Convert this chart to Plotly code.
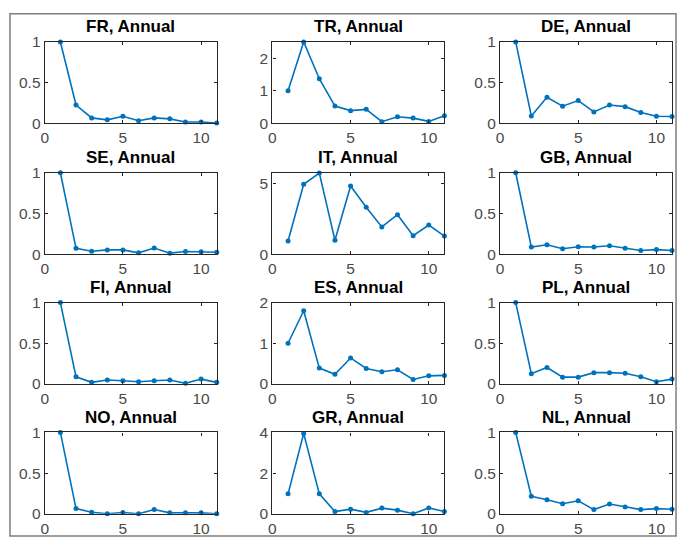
import plotly.graph_objects as go

lags = list(range(1, 12))

countries = ["FR", "TR", "DE", "SE", "IT", "GB", "FI", "ES", "PL", "NO", "GR", "NL"]

FR = [1.0, 0.225, 0.067, 0.043, 0.087, 0.032, 0.067, 0.055, 0.016, 0.016, 0.004]
TR = [1.0, 2.5, 1.37, 0.53, 0.39, 0.43, 0.05, 0.20, 0.16, 0.06, 0.23]
DE = [1.0, 0.09, 0.32, 0.21, 0.28, 0.14, 0.225, 0.205, 0.134, 0.087, 0.083]
SE = [1.0, 0.071, 0.036, 0.052, 0.052, 0.016, 0.075, 0.012, 0.032, 0.028, 0.024]
IT = [0.94, 4.98, 5.78, 0.99, 4.86, 3.34, 1.94, 2.81, 1.31, 2.07, 1.29]
GB = [1.0, 0.087, 0.115, 0.067, 0.091, 0.087, 0.103, 0.071, 0.044, 0.056, 0.044]
FI = [1.0, 0.088, 0.02, 0.048, 0.04, 0.028, 0.04, 0.048, 0.008, 0.06, 0.02]
ES = [1.0, 1.8, 0.39, 0.24, 0.64, 0.38, 0.30, 0.35, 0.11, 0.20, 0.21]
PL = [1.0, 0.127, 0.203, 0.084, 0.084, 0.139, 0.139, 0.131, 0.088, 0.028, 0.06]
NO = [1.0, 0.064, 0.02, 0.0, 0.016, 0.0, 0.052, 0.012, 0.012, 0.012, 0.0]
GR = [0.98, 3.95, 0.98, 0.11, 0.23, 0.07, 0.28, 0.18, 0.0, 0.29, 0.11]
NL = [1.0, 0.216, 0.172, 0.124, 0.16, 0.052, 0.12, 0.084, 0.052, 0.064, 0.056]

series = [FR, TR, DE, SE, IT, GB, FI, ES, PL, NO, GR, NL]

y_ranges = [[0, 1], [0, 2.5], [0, 1], [0, 1], [0, 5.8], [0, 1],
            [0, 1], [0, 2], [0, 1], [0, 1], [0, 4], [0, 1]]
y_ticks = [[0, 0.5, 1], [0, 1, 2], [0, 0.5, 1], [0, 0.5, 1], [0, 5], [0, 0.5, 1],
           [0, 0.5, 1], [0, 1, 2], [0, 0.5, 1], [0, 0.5, 1], [0, 2, 4], [0, 0.5, 1]]
y_ticktext = [["0", "0.5", "1"], ["0", "1", "2"], ["0", "0.5", "1"], ["0", "0.5", "1"],
              ["0", "5"], ["0", "0.5", "1"], ["0", "0.5", "1"], ["0", "1", "2"],
              ["0", "0.5", "1"], ["0", "0.5", "1"], ["0", "2", "4"], ["0", "0.5", "1"]]
x_ticks = [0, 5, 10]
x_range = [0, 11]

W, H = 680, 547
col_left = [41, 270, 499]
col_w = 173
row_top = [34, 169, 303, 437]
row_h = 84

LINE = "#0072BD"
TICKC = "#4a4a4a"
FONT = "Liberation Sans, Arial, sans-serif"

fig = go.Figure()
annotations = []
for i, (name, vals) in enumerate(zip(countries, series)):
    r, c = divmod(i, 3)
    k = "" if i == 0 else str(i + 1)
    x0 = col_left[c] / W
    x1 = (col_left[c] + col_w) / W
    y1 = 1 - row_top[r] / H
    y0 = 1 - (row_top[r] + row_h) / H
    fig.add_trace(go.Scatter(
        x=lags, y=vals, mode="lines+markers",
        line=dict(color=LINE, width=1.6),
        marker=dict(color=LINE, size=5),
        xaxis="x" + k, yaxis="y" + k, showlegend=False, cliponaxis=False,
    ))
    common = dict(showgrid=False, zeroline=False, showline=True, linecolor="#262626",
                  linewidth=1.2, mirror="ticks", ticks="inside", ticklen=3,
                  tickcolor="#262626", tickfont=dict(family=FONT, size=15.5, color=TICKC))
    fig.layout["xaxis" + k] = dict(domain=[x0, x1], range=x_range, tickvals=x_ticks,
                                   anchor="y" + k, **common)
    fig.layout["yaxis" + k] = dict(domain=[y0, y1], range=y_ranges[i], tickvals=y_ticks[i],
                                   ticktext=y_ticktext[i], anchor="x" + k, **common)
    annotations.append(dict(
        text="<b>%s, Annual</b>" % name, xref="paper", yref="paper",
        x=(x0 + x1) / 2, y=y1 + 4 / H, xanchor="center", yanchor="bottom",
        showarrow=False, font=dict(family=FONT, size=17, color="#000000"),
    ))

fig.update_layout(
    width=W, height=H, margin=dict(l=0, r=0, t=0, b=0),
    paper_bgcolor="white", plot_bgcolor="white",
    annotations=annotations,
    shapes=[dict(type="rect", xref="paper", yref="paper",
                 x0=6 / W, x1=676 / W, y0=1 - 544 / H, y1=1 - 5 / H,
                 line=dict(color="#7f7f7f", width=1.5), layer="below")],
)

fig.write_html("out.html")
